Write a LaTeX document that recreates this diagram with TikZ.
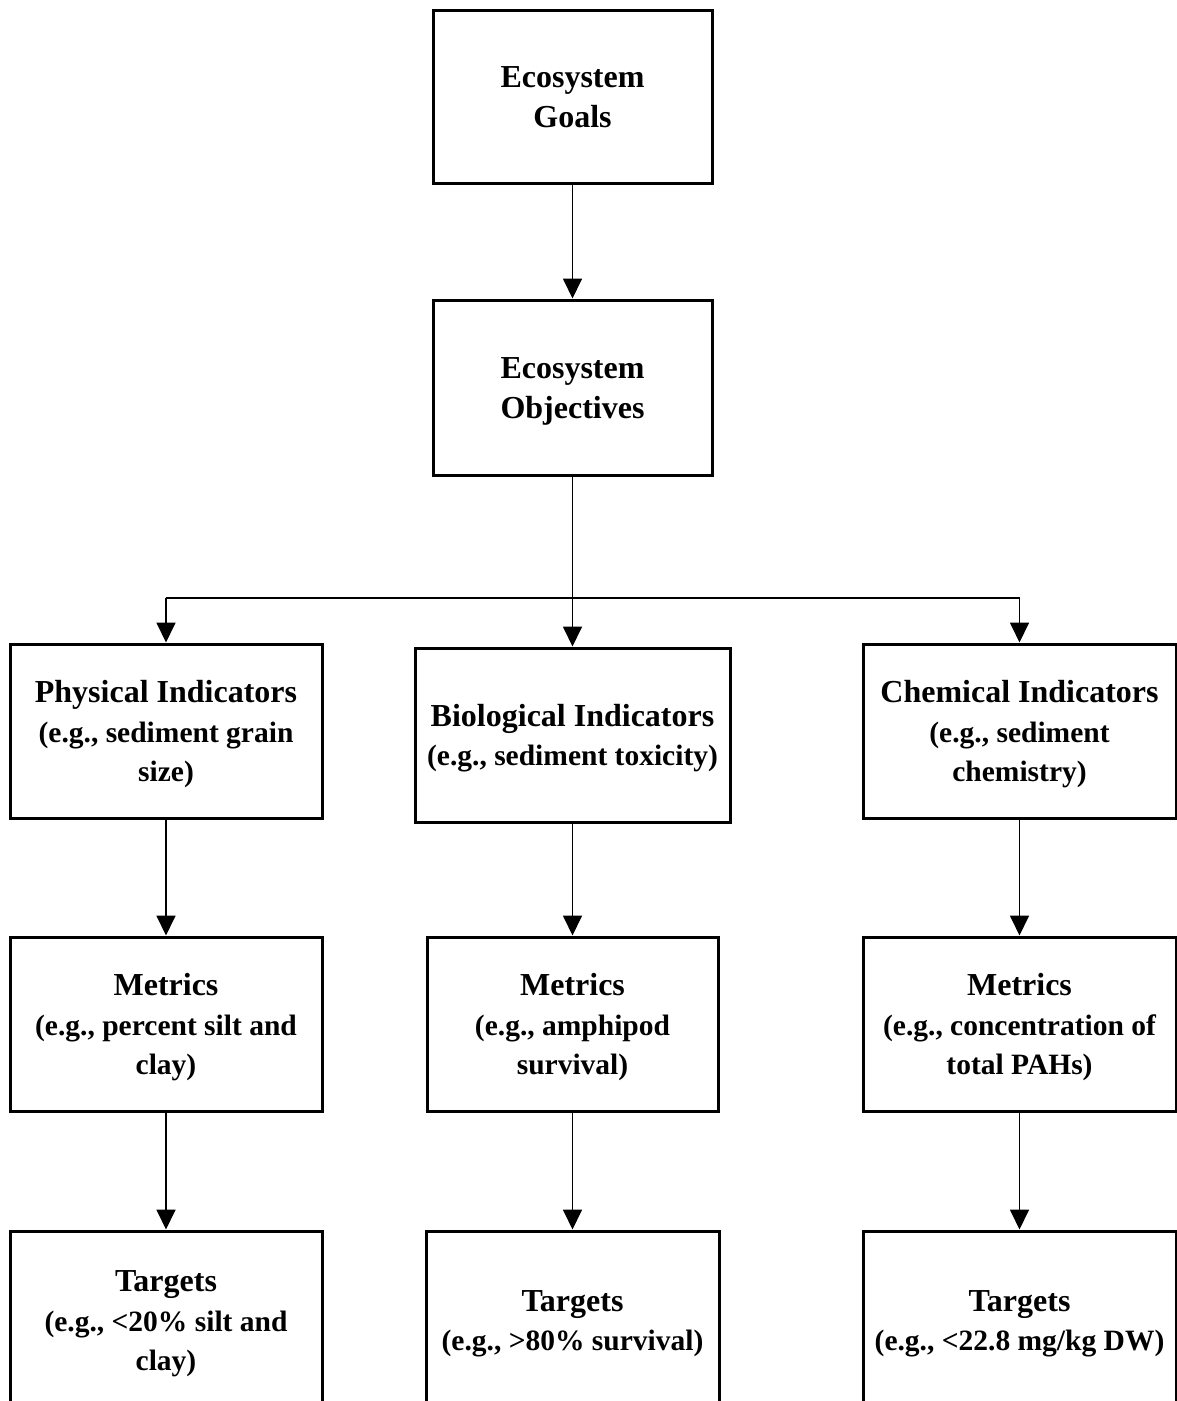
\documentclass[tikz,border=0pt]{standalone}
\usepackage{fontspec}
\setmainfont{Liberation Serif}
\usetikzlibrary{arrows.meta}
\tikzset{
  box/.style={draw=black, line width=3pt, fill=white, align=center, inner sep=0pt,
    font=\fontsize{29.5}{39.5}\selectfont\bfseries},
  conn/.style={draw=black, line width=1.8pt, -{Triangle[width=19pt,length=20pt]}},
  line/.style={draw=black, line width=1.8pt},
}
\newcommand{\sst}{\rule[-8.5pt]{0pt}{39pt}}
\newcommand{\ttl}[1]{{\fontsize{32}{39.5}\selectfont\sst #1}}
\newcommand{\sub}[1]{\sst #1}
\begin{document}
\begin{tikzpicture}[x=1pt,y=-1pt]
\useasboundingbox (0,0) rectangle (1177,1401);
\clip (0,0) rectangle (1177,1401);
\fill[white] (0,0) rectangle (1177,1401);
% top
\node[box, minimum width=279pt, minimum height=173pt] (goals) at (572.5,96.5) {\ttl{Ecosystem}\\\ttl{Goals}};
\node[box, minimum width=279pt, minimum height=175pt] (obj) at (572.5,387.5) {\ttl{Ecosystem}\\\ttl{Objectives}};
% indicators
\node[box, minimum width=312pt, minimum height=174pt] (phys) at (166,731) {\ttl{Physical Indicators}\\\sub{(e.g., sediment grain}\\\sub{size)}};
\node[box, minimum width=315pt, minimum height=174pt] (bio) at (572.5,735) {\ttl{Biological Indicators}\\\sub{(e.g., sediment toxicity)}};
\node[box, minimum width=313pt, minimum height=174pt] (chem) at (1019.5,731) {\ttl{Chemical Indicators}\\\sub{(e.g., sediment}\\\sub{chemistry)}};
% metrics
\node[box, minimum width=312pt, minimum height=174pt] (mphys) at (166,1024) {\ttl{Metrics}\\\sub{(e.g., percent silt and}\\\sub{clay)}};
\node[box, minimum width=291pt, minimum height=174pt] (mbio) at (572.5,1024) {\ttl{Metrics}\\\sub{(e.g., amphipod}\\\sub{survival)}};
\node[box, minimum width=313pt, minimum height=174pt] (mchem) at (1019.5,1024) {\ttl{Metrics}\\\sub{(e.g., concentration of}\\\sub{total PAHs)}};
% targets
\node[box, minimum width=312pt, minimum height=178pt] (tphys) at (166,1320) {\ttl{Targets}\\\sub{(e.g., <20\% silt and}\\\sub{clay)}};
\node[box, minimum width=293pt, minimum height=178pt] (tbio) at (572.5,1320) {\ttl{Targets}\\\sub{(e.g., >80\% survival)}};
\node[box, minimum width=313pt, minimum height=178pt] (tchem) at (1019.5,1320) {\ttl{Targets}\\\sub{(e.g., <22.8 mg/kg DW)}};
% connectors
\draw[conn] (goals.south) -- (obj.north);
\draw[conn] (obj.south) -- (bio.north);
\coordinate (branch) at (572.5,598);
\draw[line] (phys.north |- branch) -- (chem.north |- branch);
\draw[conn] (phys.north |- branch) -- (phys.north);
\draw[conn] (chem.north |- branch) -- (chem.north);
\draw[conn] (phys.south) -- (mphys.north);
\draw[conn] (bio.south) -- (mbio.north);
\draw[conn] (chem.south) -- (mchem.north);
\draw[conn] (mphys.south) -- (tphys.north);
\draw[conn] (mbio.south) -- (tbio.north);
\draw[conn] (mchem.south) -- (tchem.north);
\end{tikzpicture}
\end{document}
